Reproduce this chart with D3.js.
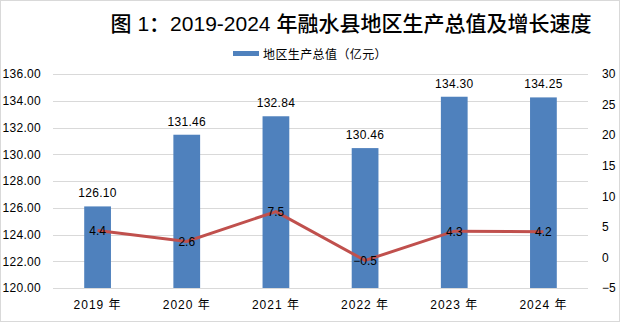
<!DOCTYPE html>
<html><head><meta charset="utf-8">
<script src="https://cdn.jsdelivr.net/npm/d3@7"></script>
<style>
html,body{margin:0;padding:0;background:#fff;}
svg{display:block;}
text{font-family:"Liberation Sans",Arial,"Noto Sans CJK SC",sans-serif;}
</style></head>
<body>
<svg id="c" width="620" height="322"></svg>
<script>
const categories = ["2019 年","2020 年","2021 年","2022 年","2023 年","2024 年"];
const gdpValues = [126.10, 131.46, 132.84, 130.46, 134.30, 134.25];
const growthValues = [4.4, 2.6, 7.5, -0.5, 4.3, 4.2];
const leftTicks = [120,122,124,126,128,130,132,134,136];
const rightTicks = [-5,0,5,10,15,20,25,30];
const title = "图 1：2019-2024 年融水县地区生产总值及增长速度";
const legendLabel = "地区生产总值（亿元）";

const svg = d3.select("#c");
const W = 620, H = 322;
const m = {left:53, right:32, top:74, bottom:34};
const x0 = m.left, x1 = W - m.right, y0 = H - m.bottom, y1 = m.top;

svg.append("rect").attr("x",0.5).attr("y",0.5).attr("width",W-1).attr("height",H-1)
  .attr("fill","#fff").attr("stroke","#d9d9d9");

const x = d3.scaleBand().domain(categories).range([x0,x1]).paddingInner(0.7).paddingOuter(0.35);
const yL = d3.scaleLinear().domain([120,136]).range([y0,y1]);
const yR = d3.scaleLinear().domain([-5,30]).range([y0,y1]);

// gridlines
svg.append("g").selectAll("line").data(leftTicks).join("line")
  .attr("x1",x0).attr("x2",x1).attr("y1",d=>Math.round(yL(d))+0.5).attr("y2",d=>Math.round(yL(d))+0.5)
  .attr("stroke","#d9d9d9").attr("stroke-width",1);

// left axis
const gL = svg.append("g").attr("transform",`translate(${x0},0)`)
  .call(d3.axisLeft(yL).tickValues(leftTicks).tickFormat(d3.format(".2f")).tickSize(0).tickPadding(12));
gL.select(".domain").remove();
gL.selectAll("text").attr("font-size",12).attr("fill","#000").attr("letter-spacing",0.3);

// right axis
const gR = svg.append("g").attr("transform",`translate(${x1},0)`)
  .call(d3.axisRight(yR).tickValues(rightTicks).tickSize(0).tickPadding(14));
gR.select(".domain").remove();
gR.selectAll("text").attr("font-size",12).attr("fill","#000");

// bottom axis
const gB = svg.append("g").attr("transform",`translate(0,${y0})`)
  .call(d3.axisBottom(x).tickSize(0).tickPadding(12));
gB.select(".domain").remove();
gB.selectAll("text").attr("font-size",12).attr("fill","#000").attr("letter-spacing",1);

// bars
svg.append("g").selectAll("rect").data(gdpValues).join("rect")
  .attr("x",(d,i)=>x(categories[i])).attr("width",x.bandwidth())
  .attr("y",d=>yL(d)).attr("height",d=>y0-yL(d)).attr("fill","#4f81bd");

svg.append("g").selectAll("text").data(gdpValues).join("text")
  .attr("x",(d,i)=>x(categories[i])+x.bandwidth()/2).attr("y",d=>yL(d)-9)
  .attr("text-anchor","middle").attr("font-size",12).attr("fill","#000").attr("letter-spacing",0.3)
  .text(d=>d3.format(".2f")(d));

// line
const line = d3.line().x((d,i)=>x(categories[i])+x.bandwidth()/2).y(d=>yR(d));
svg.append("path").datum(growthValues).attr("d",line)
  .attr("fill","none").attr("stroke","#c0504d").attr("stroke-width",3);

svg.append("g").selectAll("text").data(growthValues).join("text")
  .attr("x",(d,i)=>x(categories[i])+x.bandwidth()/2).attr("y",d=>yR(d)+4.5)
  .attr("text-anchor","middle").attr("font-size",12).attr("fill","#000")
  .text(d=>d3.format(".1f")(d));

// title
svg.append("text").attr("x",351).attr("y",31).attr("text-anchor","middle")
  .attr("font-size",21).attr("font-weight",500).attr("fill","#000")
  .attr("font-family","'Noto Sans CJK SC', sans-serif").text(title);

// legend
svg.append("rect").attr("x",233).attr("y",51).attr("width",26).attr("height",5).attr("fill","#4f81bd");
svg.append("text").attr("x",263).attr("y",59).attr("font-size",12).attr("fill","#000").attr("letter-spacing",0.4)
  .attr("font-family","'Noto Sans CJK SC', sans-serif").text(legendLabel);
</script>
</body></html>
